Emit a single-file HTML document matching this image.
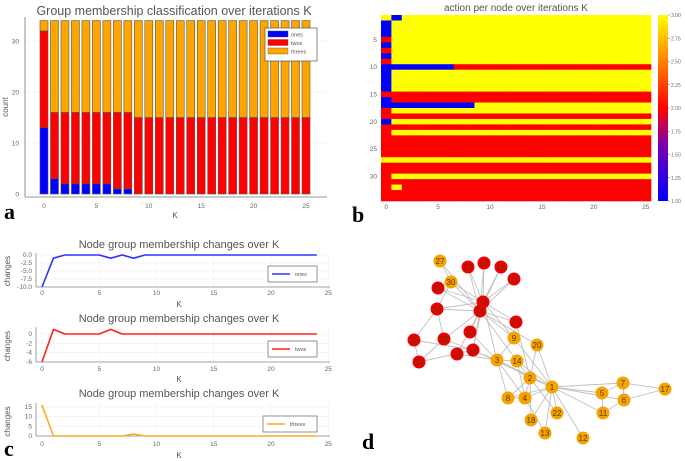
<!DOCTYPE html>
<html><head><meta charset="utf-8"><style>
html,body{margin:0;padding:0;background:#fff}
svg{display:block;font-family:"Liberation Sans",sans-serif}
.t{fill:#555}
.tk{fill:#666;font-size:6.5px}
.pl{font-family:"Liberation Serif",serif;font-weight:bold;font-size:22px;fill:#000}
</style></head><body>
<svg id="fig" width="685" height="461" viewBox="0 0 685 461">
<g id="pa"></g>
<g id="pb"></g>
<g id="pc"></g>
<g id="pd"></g>
<text class="pl" x="4" y="219">a</text>
<text class="pl" x="352" y="222">b</text>
<text class="pl" x="4" y="456">c</text>
<text class="pl" x="362" y="449">d</text>
</svg>
<script>
// ---- Panel a data ----
const barK = [0,1,2,3,4,5,6,7,8,9,10,11,12,13,14,15,16,17,18,19,20,21,22,23,24,25];
const onesCount   = [13,3,2,2,2,2,2,1,1,0,0,0,0,0,0,0,0,0,0,0,0,0,0,0,0,0];
const twosCount   = [19,13,14,14,14,14,14,15,15,15,15,15,15,15,15,15,15,15,15,15,15,15,15,15,15,15];
const threesCount = [2,18,18,18,18,18,18,18,18,19,19,19,19,19,19,19,19,19,19,19,19,19,19,19,19,19];
const barYTicks = [0,10,20,30];
const barXTicks = [0,5,10,15,20,25];
// ---- Panel b data ----
const nodeInitial = [3,1,1,1,2,1,2,1,2,1,1,1,1,1,2,1,1,2,2,1,2,2,2,2,2,2,3,2,2,2,2,2,2,2];
const nodeFinal   = [3,3,3,3,3,3,3,3,3,2,3,3,3,3,2,2,3,3,2,3,2,3,2,2,2,2,3,2,2,3,2,2,2,2];
const transNode  = [1,10,17,32];
const transStart = [1,1,1,1];
const transEnd   = [1,6,8,1];
const transValue = [1,1,1,3];
const cbTicks = [1.00,1.25,1.50,1.75,2.00,2.25,2.50,2.75,3.00];
const rowTicks = [5,10,15,20,25,30];
// ---- Panel c data ----
const onesChange   = [-10,-1,0,0,0,0,-1,0,-1,0,0,0,0,0,0,0,0,0,0,0,0,0,0,0,0];
const twosChange   = [-6,1,0,0,0,0,1,0,0,0,0,0,0,0,0,0,0,0,0,0,0,0,0,0,0];
const threesChange = [16,0,0,0,0,0,0,0,1,0,0,0,0,0,0,0,0,0,0,0,0,0,0,0,0];
// ---- Panel d data ----
const nodeIds = [1,2,3,4,5,6,7,8,9,10,11,12,13,14,15,16,17,18,19,20,21,22,23,24,25,26,27,28,29,30,31,32,33,34];
const nodeGroup = [3,3,3,3,3,3,3,3,3,2,3,3,3,3,2,2,3,3,2,3,2,3,2,2,2,2,3,2,2,3,2,2,2,2];
const edgeFrom = [1,1,1,1,1,1,1,1,1,1,1,1,1,1,1,1,2,2,2,2,2,2,2,2,3,3,3,3,3,3,3,3,4,4,4,5,5,6,6,6,7,9,9,9,10,14,15,15,16,16,19,19,20,21,21,23,23,24,24,24,24,24,25,25,25,26,27,27,28,29,29,30,30,31,31,32,32,33];
const edgeTo   = [2,3,4,5,6,7,8,9,11,12,13,14,18,20,22,32,3,4,8,14,18,20,22,31,4,8,9,10,14,28,29,33,8,13,14,7,11,7,11,17,17,31,33,34,34,34,33,34,33,34,33,34,34,33,34,33,34,26,28,30,33,34,26,28,32,32,30,34,34,32,34,33,34,33,34,33,34,34];

const NS="http://www.w3.org/2000/svg";
function mk(parent,tag,attrs,text){const e=document.createElementNS(NS,tag);for(const k in attrs)e.setAttribute(k,attrs[k]);if(text!==undefined)e.textContent=text;parent.appendChild(e);return e;}
const colors={1:"#0000ff",2:"#ff0000",3:"#ffa500"};

// ===== Panel a =====
(function(){
  const g=document.getElementById('pa');
  const x=k=>44+k*10.48, y=v=>194-v*5.1;
  mk(g,'text',{x:174,y:15,'text-anchor':'middle','font-size':12.5,class:'t'},'Group membership classification over iterations K');
  barYTicks.forEach(v=>{
    const l=mk(g,'line',{x1:25,x2:327,y1:y(v),y2:y(v),stroke:'#eee','stroke-width':0.6});
    
    const t=mk(g,'text',{x:19,y:y(v)+2.3,'text-anchor':'end',class:'tk'},v);
    
  });
  barXTicks.forEach(v=>{
    mk(g,'line',{x1:x(v),x2:x(v),y1:17,y2:197,stroke:'#eee','stroke-width':0.6});
    const t=mk(g,'text',{x:x(v),y:208,'text-anchor':'middle',class:'tk'},v);
    
  });
  barK.forEach((k,i)=>{
    let base=0;
    [[onesCount[i],1,'ones'],[twosCount[i],2,'twos'],[threesCount[i],3,'threes']].forEach(([v,c,n])=>{
      if(v>0){
        const r=mk(g,'rect',{x:x(k)-4,y:y(base+v),width:8,height:v*5.1,fill:colors[c],stroke:'#555','stroke-width':0.6});
        
      }
      base+=v;
    });
  });
  mk(g,'line',{x1:25,x2:25,y1:17,y2:197,stroke:'#777','stroke-width':0.8});
  mk(g,'line',{x1:25,x2:327,y1:197,y2:197,stroke:'#777','stroke-width':0.8});
  mk(g,'text',{x:175,y:218,'text-anchor':'middle','font-size':8,class:'t'},'K');
  mk(g,'text',{x:8,y:107,'text-anchor':'middle','font-size':8,class:'t',transform:'rotate(-90 8 107)'},'count');
  const lg=mk(g,'g',{});
  mk(lg,'rect',{x:265,y:28,width:52,height:33,fill:'#fff',stroke:'#555','stroke-width':0.7});
  [['ones',1],['twos',2],['threes',3]].forEach(([n,c],i)=>{
    mk(lg,'rect',{x:268,y:31+i*8.5,width:20,height:6,fill:colors[c],stroke:'#555','stroke-width':0.4});
    mk(lg,'text',{x:291,y:36.5+i*8.5,'font-size':5.5,class:'t'},n);
  });
})();

// ===== Panel b =====
(function(){
  const g=document.getElementById('pb');
  const L=381,R=651,T=15,B=201,nc=26,nr=34,cw=(R-L)/nc,rh=(B-T)/nr;
  mk(g,'text',{x:516,y:11,'text-anchor':'middle','font-size':10,class:'t'},'action per node over iterations K');
  const cval={1:'#0000ff',2:'#ff0000',3:'#ffff00'};
  for(let r=0;r<nr;r++){
    for(let c=0;c<nc;c++){
      let v=c===0?nodeInitial[r]:nodeFinal[r];
      transNode.forEach((n,j)=>{if(n===r+1&&c>=transStart[j]&&c<=transEnd[j])v=transValue[j];});
      const e=mk(g,'rect',{x:L+c*cw,y:T+r*rh,width:cw+0.3,height:rh+0.3,fill:cval[v]});
      
    }
  }
  rowTicks.forEach(v=>mk(g,'text',{x:377,y:T+(v-0.5)*rh+2.2,'text-anchor':'end',class:'tk'},v));
  barXTicks.forEach(v=>mk(g,'text',{x:L+(v+0.5)*cw,y:209,'text-anchor':'middle',class:'tk'},v));
  const d=mk(g,'defs',{});
  const gr=mk(d,'linearGradient',{id:'cb',x1:0,y1:1,x2:0,y2:0});
  [[0,'#0000ff'],[0.3,'#7a00b0'],[0.5,'#ff0000'],[0.75,'#ff8000'],[1,'#ffff00']].forEach(([o,c])=>mk(gr,'stop',{offset:o,'stop-color':c}));
  const cb=mk(g,'rect',{x:658,y:T,width:10,height:B-T,fill:'url(#cb)'});
  
  cbTicks.forEach(v=>{const yy=B-(v-1)/2*(B-T);
    mk(g,'line',{x1:668,x2:670,y1:yy,y2:yy,stroke:'#666','stroke-width':0.5});
    mk(g,'text',{x:671,y:yy+2,'font-size':5,fill:'#666'},v.toFixed(2));});
})();

// ===== Panel c =====
(function(){
  const g=document.getElementById('pc');
  const subs=[
    {data:onesChange,name:'ones',color:'#3030ff',ttl:244,top:255,bot:287,vmin:-10,vmax:0,ticks:[0,-2.5,-5,-7.5,-10],fmt:v=>v.toFixed(1),ty:293,ky:304,leg:[268,266]},
    {data:twosChange,name:'twos',color:'#ff2020',ttl:318,top:330,bot:362,vmin:-6,vmax:1,ticks:[0,-2,-4,-6],fmt:v=>v,ty:369,ky:379,leg:[268,341]},
    {data:threesChange,name:'threes',color:'#ffaa20',ttl:393,top:407,bot:436,vmin:0,vmax:15,ticks:[0,5,10,15],fmt:v=>v,ty:444,ky:455,leg:[263,416]}
  ];
  const x=k=>42+k*11.45;
  subs.forEach(s=>{
    const sg=mk(g,'g',{});
    const zeroAt=s.vmax===0?s.top:(s.vmin===0?s.bot:null);
    const y=v=>{
      if(s.vmin===-6) return s.bot-(v-s.vmin)*((s.bot-(s.top+4))/6);
      return s.bot-(v-s.vmin)/(s.vmax-s.vmin)*(s.bot-s.top);
    };
    mk(sg,'text',{x:179,y:s.ttl+4,'text-anchor':'middle','font-size':11,class:'t'},'Node group membership changes over K');
    const yTop=Math.min(y(Math.max(...s.data)),s.top)-2;
    s.ticks.forEach(v=>{
      mk(sg,'line',{x1:36,x2:327,y1:y(v),y2:y(v),stroke:'#eee','stroke-width':0.6});
      mk(sg,'text',{x:32,y:y(v)+2,'text-anchor':'end',class:'tk'},s.fmt(v));
    });
    barXTicks.forEach(v=>{
      mk(sg,'line',{x1:x(v),x2:x(v),y1:yTop,y2:s.bot,stroke:'#eee','stroke-width':0.6});
      mk(sg,'text',{x:x(v),y:s.ty+2,'text-anchor':'middle',class:'tk'},v);
    });
    mk(sg,'line',{x1:36,x2:36,y1:yTop,y2:s.bot,stroke:'#888','stroke-width':0.8});
    mk(sg,'line',{x1:36,x2:330,y1:s.bot,y2:s.bot,stroke:'#888','stroke-width':0.8});
    const pts=s.data.map((v,i)=>x(i)+','+y(v)).join(' ');
    const pl=mk(sg,'polyline',{points:pts,fill:'none',stroke:s.color,'stroke-width':1.6,'stroke-linejoin':'round'});
    
    mk(sg,'text',{x:179,y:s.ky+3,'text-anchor':'middle','font-size':8,class:'t'},'K');
    const cy=(s.top+s.bot)/2;
    mk(sg,'text',{x:10,y:cy,'text-anchor':'middle','font-size':8,class:'t',transform:'rotate(-90 10 '+cy+')'},'changes');
    const [lx,ly]=s.leg,lw=317-lx;
    const lg=mk(sg,'g',{});
    mk(lg,'rect',{x:lx,y:ly,width:lw,height:16,fill:'#fff',stroke:'#666','stroke-width':0.7});
    mk(lg,'line',{x1:lx+4,x2:lx+22,y1:ly+8,y2:ly+8,stroke:s.color,'stroke-width':1.5});
    mk(lg,'text',{x:lx+27,y:ly+10,'font-size':5.5,class:'t'},s.name);
  });
})();

// ===== Panel d =====
(function(){
  const g=document.getElementById('pd');
  const pos={1:[552,387],2:[530,378],3:[497,360],4:[525,398],5:[602,393],6:[624,400],7:[623,383],8:[508,398],9:[514,338],10:[470,332],11:[603,413],12:[583,438],13:[545,433],14:[517,361],15:[484,263],16:[501,267],17:[665,389],18:[531,420],19:[438,288],20:[537,345],21:[514,279],22:[557,413],23:[468,267],24:[437,309],25:[419,362],26:[414,340],27:[440,261],28:[444,339],29:[457,354],30:[451,282],31:[516,322],32:[473,350],33:[483,302],34:[480,311]};
  edgeFrom.forEach((a,i)=>{
    const b=edgeTo[i];
    const l=mk(g,'line',{x1:pos[a][0],y1:pos[a][1],x2:pos[b][0],y2:pos[b][1],stroke:'#c0c0c0','stroke-width':0.9});
    
  });
  nodeIds.forEach((n,i)=>{
    const ng=mk(g,'g',{});
    
    
    mk(ng,'circle',{cx:pos[n][0],cy:pos[n][1],r:6.5,fill:nodeGroup[i]===2?'#ee0000':'#f5a300'});
    mk(ng,'text',{x:pos[n][0],y:pos[n][1]+2.8,'text-anchor':'middle','font-size':8,fill:'#5a3a00'},n);
  });
})();
</script>
</body></html>
